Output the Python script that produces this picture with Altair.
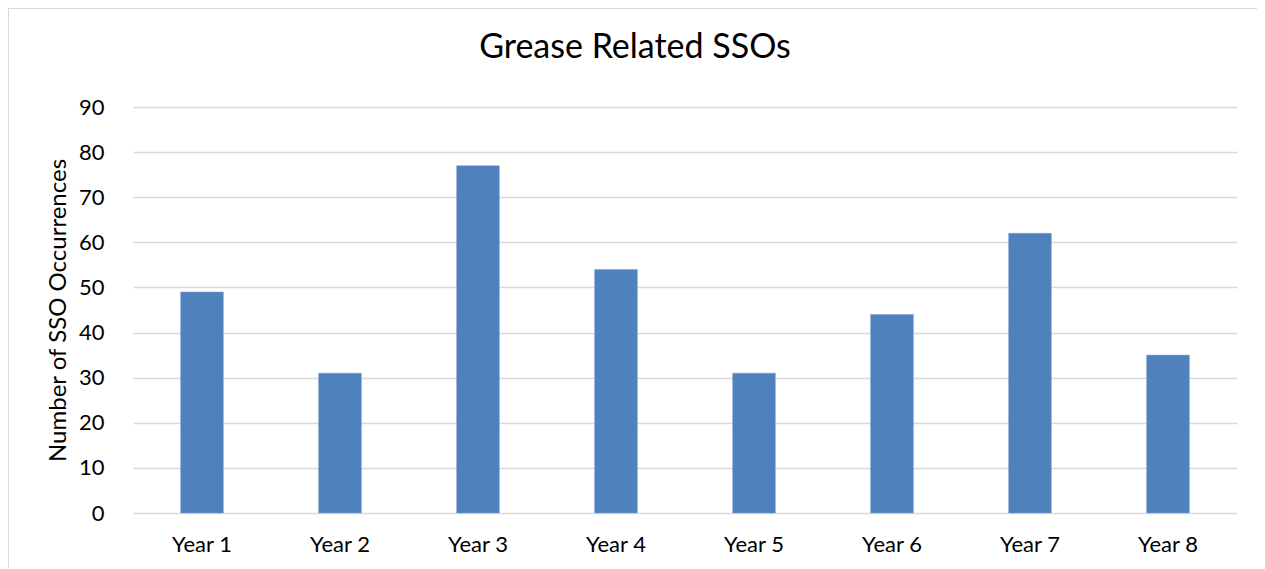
import altair as alt
import pandas as pd

years = ["Year 1", "Year 2", "Year 3", "Year 4", "Year 5", "Year 6", "Year 7", "Year 8"]
occurrences = [49, 31, 77, 54, 31, 44, 62, 35]

df = pd.DataFrame({"year": years, "count": occurrences})

W, H = 1104, 406
FONT = "Lato"

bars = alt.Chart(df).mark_bar(color="#4F81BD", stroke="#7fa3d4", strokeWidth=0.5).encode(
    x=alt.X("year:N", sort=years, title=None,
            scale=alt.Scale(paddingInner=0.69, paddingOuter=0.345),
            axis=alt.Axis(labelAngle=0, labelFont=FONT, labelFontSize=22, labelColor="#000000",
                          labelPadding=21, ticks=False, domain=False)),
    y=alt.Y("count:Q", title="Number of SSO Occurrences",
            scale=alt.Scale(domain=[0, 90]),
            axis=alt.Axis(values=list(range(0, 91, 10)), labelFont=FONT, labelFontSize=22,
                          labelColor="#000000", labelPadding=29, ticks=False, domain=False,
                          gridColor="#d9d9d9", gridWidth=1.3,
                          titleFont=FONT, titleFontSize=24, titleFontWeight="normal",
                          titleColor="#000000", titleX=-75, titleBaseline="middle")),
)

# outer chart frame (only top and left edges are visible in the reference)
frame_top = alt.Chart(df).mark_rule(stroke="#d9d9d9", strokeWidth=1.5).encode(
    x=alt.value(-125), x2=alt.value(1160), y=alt.value(-99)
)
frame_left = alt.Chart(df).mark_rule(stroke="#d9d9d9", strokeWidth=1.5).encode(
    x=alt.value(-125), y=alt.value(-99), y2=alt.value(480)
)

chart = alt.layer(frame_top, frame_left, bars).properties(
    width=W, height=H,
    title=alt.TitleParams("Grease Related SSOs", font=FONT, fontSize=34, fontWeight="normal",
                          color="#000000", anchor="middle", dx=-50, offset=-58),
    autosize=alt.AutoSizeParams(type="none"),
    padding={"left": 125, "top": 99, "right": 20, "bottom": 55},
    background="white",
).configure_view(stroke=None)

chart.save("out.html", embed_options={"renderer": "svg", "actions": False})
